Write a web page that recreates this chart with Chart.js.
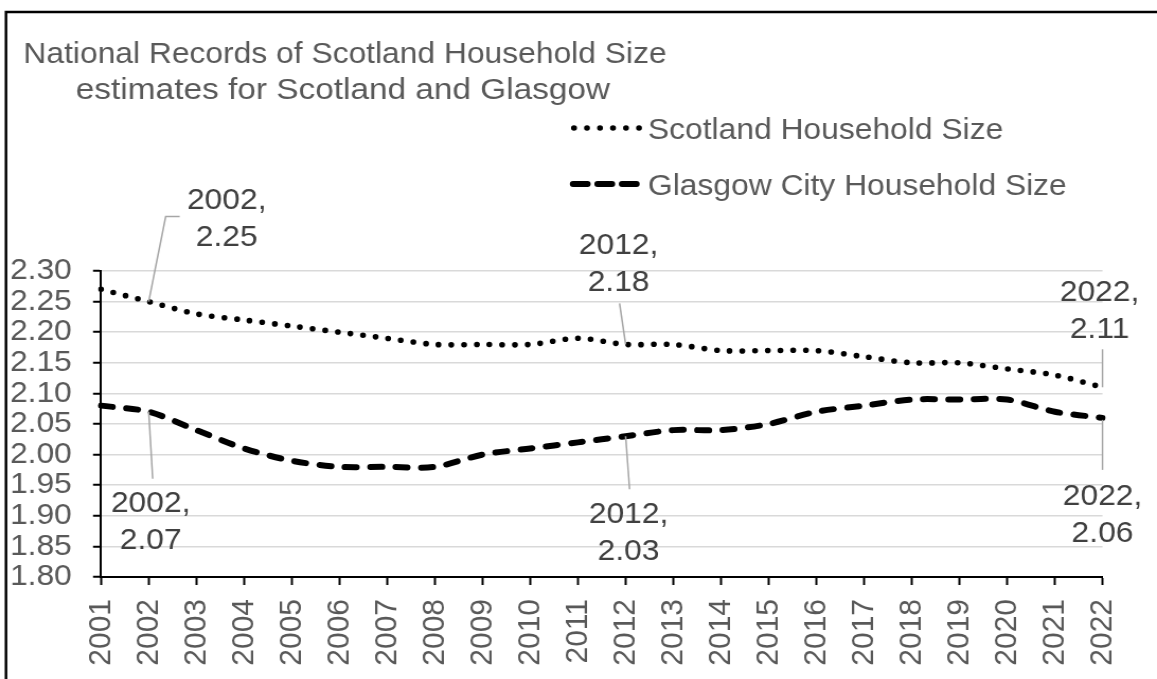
<!DOCTYPE html>
<html>
<head>
<meta charset="utf-8">
<title>Household Size</title>
<script src="https://cdn.jsdelivr.net/npm/chart.js@4.4.1/dist/chart.umd.min.js"></script>
<style>
  html, body { margin: 0; padding: 0; background: #fff; overflow: hidden; }
  #wrap { width: 1157px; height: 679px; overflow: hidden; }
  #chart { display: block; transform-origin: 0 0; }
</style>
</head>
<body>
<div id="wrap"><canvas id="chart" width="1092" height="679"></canvas></div>
<script>
// household size estimates, 2001-2022
const years = ['2001','2002','2003','2004','2005','2006','2007','2008','2009','2010','2011',
               '2012','2013','2014','2015','2016','2017','2018','2019','2020','2021','2022'];
const scotlandSize = [2.27,2.25,2.23,2.22,2.21,2.20,2.19,2.18,2.18,2.18,2.19,
                      2.18,2.18,2.17,2.17,2.17,2.16,2.15,2.15,2.14,2.13,2.11];
const glasgowSize  = [2.08,2.07,2.04,2.01,1.99,1.98,1.98,1.98,2.00,2.01,2.02,
                      2.03,2.04,2.04,2.05,2.07,2.08,2.09,2.09,2.09,2.07,2.06];
const sizeTicks = [1.80,1.85,1.90,1.95,2.00,2.05,2.10,2.15,2.20,2.25,2.30];
const seriesNames = ['Scotland Household Size', 'Glasgow City Household Size'];
const titleLines = ['National Records of Scotland Household Size', 'estimates for Scotland and Glasgow'];

// which points get a "year, value" callout, and where the callout sits (page px from the point)
const callouts = [
  { ds: 0, i: 1,  dx: 78, dy: -56, leader: [[0, 0], [17, -85], [31, -85]] },
  { ds: 0, i: 11, dx: -7, dy: -53, leader: [[0, 0], [-6, -41]] },
  { ds: 0, i: 21, dx: -3, dy: -49, leader: [[0, 0], [0, -38]] },
  { ds: 1, i: 1,  dx: 2,  dy: 137, leader: [[0, 0], [4, 67]] },
  { ds: 1, i: 11, dx: 3,  dy: 124, leader: [[0, 0], [4, 53]] },
  { ds: 1, i: 21, dx: 0,  dy: 124, leader: [[0, 2], [0, 52]] }
];

const FONT = "'Liberation Sans', Arial, sans-serif";
const canvas = document.getElementById('chart');
// the drawing is a little wider than tall text would be, stretch the canvas sideways
const SX = 1157 / canvas.width;
canvas.style.transform = 'scaleX(' + SX + ')';
const cx = x => x / SX;

const DOTTED = { width: 5.6, dash: [0, 12], cap: 'round' };
const DASHED = { width: 6, dash: [11, 13], cap: 'round' };

const decor = {
  id: 'decor',
  afterDraw(chart) {
    const ctx = chart.ctx;
    ctx.save();

    // outer frame (only left and top edges fall inside the page)
    ctx.strokeStyle = '#000';
    ctx.lineWidth = 2.5;
    ctx.strokeRect(cx(6), 12, chart.width + 20, chart.height + 20);

    // title, second line centred under the first
    ctx.fillStyle = '#595959';
    ctx.font = '30px ' + FONT;
    ctx.textAlign = 'center';
    ctx.textBaseline = 'alphabetic';
    ctx.fillText(titleLines[0], cx(345), 63);
    ctx.save();
    ctx.translate(cx(343), 99);
    ctx.scale(1.05, 1);
    ctx.fillText(titleLines[1], 0, 0);
    ctx.restore();

    // legend
    const rows = [{ y: 128, st: DOTTED }, { y: 184, st: DASHED }];
    rows.forEach((r, k) => {
      ctx.beginPath();
      ctx.strokeStyle = '#000';
      ctx.lineWidth = r.st.width;
      ctx.lineCap = r.st.cap;
      if (k === 0) {
        ctx.setLineDash([0, cx(13)]);
        ctx.moveTo(cx(574), r.y);
        ctx.lineTo(cx(640), r.y);
      } else {
        ctx.setLineDash([cx(14.5), cx(10)]);
        ctx.moveTo(cx(573), r.y);
        ctx.lineTo(cx(640), r.y);
      }
      ctx.stroke();
      ctx.setLineDash([]);
      ctx.fillStyle = '#595959';
      ctx.textAlign = 'left';
      ctx.fillText(seriesNames[k], cx(648), r.y + 11);
    });

    // callouts with leader lines
    const data = [scotlandSize, glasgowSize];
    callouts.forEach(c => {
      const pt = chart.getDatasetMeta(c.ds).data[c.i];
      ctx.beginPath();
      ctx.strokeStyle = '#a6a6a6';
      ctx.lineWidth = 1.5;
      ctx.lineCap = 'butt';
      c.leader.forEach((p, n) => {
        const x = pt.x + cx(p[0]), y = pt.y + p[1];
        if (n === 0) ctx.moveTo(x, y); else ctx.lineTo(x, y);
      });
      ctx.stroke();

      ctx.fillStyle = '#404040';
      ctx.textAlign = 'center';
      ctx.fillText(years[c.i] + ',', pt.x + cx(c.dx), pt.y + c.dy - 37);
      ctx.fillText(data[c.ds][c.i].toFixed(2), pt.x + cx(c.dx), pt.y + c.dy);
    });

    ctx.restore();
  }
};

Chart.defaults.font.family = FONT;

new Chart(canvas, {
  type: 'line',
  data: {
    labels: years,
    datasets: [
      {
        label: seriesNames[0],
        data: scotlandSize,
        borderColor: '#000',
        borderWidth: DOTTED.width,
        borderDash: DOTTED.dash,
        borderCapStyle: DOTTED.cap,
        pointRadius: 0,
        tension: 0.3,
        fill: false
      },
      {
        label: seriesNames[1],
        data: glasgowSize,
        borderColor: '#000',
        borderWidth: DASHED.width,
        borderDash: DASHED.dash,
        borderCapStyle: DASHED.cap,
        pointRadius: 0,
        tension: 0.3,
        fill: false
      }
    ]
  },
  options: {
    responsive: false,
    animation: false,
    layout: { padding: { left: 0, top: 271, right: canvas.width - cx(1102.5), bottom: 0 } },
    plugins: {
      legend: { display: false },
      title: { display: false },
      tooltip: { enabled: false }
    },
    scales: {
      x: {
        type: 'category',
        offset: false,
        afterFit(scale) { scale.height = 102; },
        grid: {
          offset: false,
          drawOnChartArea: false,
          drawTicks: true,
          tickLength: 8,
          tickWidth: 2,
          tickColor: '#000'
        },
        border: { color: '#000', width: 2 },
        ticks: {
          autoSkip: false,
          minRotation: 90,
          maxRotation: 90,
          padding: 14,
          color: '#595959',
          font: { size: 30 }
        }
      },
      y: {
        min: 1.8,
        max: 2.3,
        afterFit(scale) { scale.width = cx(101); },
        afterBuildTicks(scale) { scale.ticks = sizeTicks.map(v => ({ value: v })); },
        grid: {
          color: '#d9d9d9',
          lineWidth: 1.5,
          tickLength: cx(8),
          tickWidth: 2,
          tickColor: '#000'
        },
        border: { color: '#000', width: 2 },
        ticks: {
          autoSkip: false,
          padding: 20,
          color: '#595959',
          font: { size: 30 },
          callback: v => Number(v).toFixed(2)
        }
      }
    }
  },
  plugins: [decor]
});
</script>
</body>
</html>
